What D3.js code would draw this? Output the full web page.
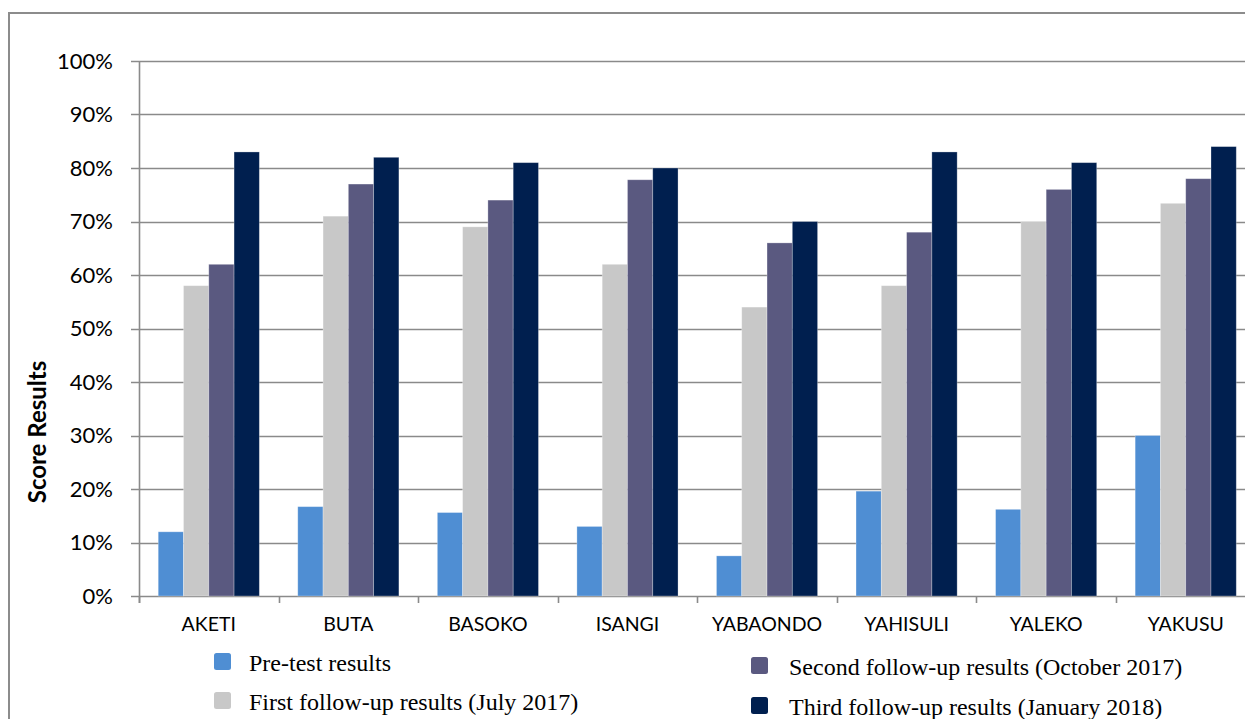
<!DOCTYPE html>
<html>
<head>
<meta charset="utf-8">
<script src="https://cdn.jsdelivr.net/npm/d3@7"></script>
<style>
  html, body { margin: 0; padding: 0; background: #fff; }
  svg { display: block; }
</style>
</head>
<body>
<svg id="chart" width="1245" height="719"></svg>
<script>
// Health zones on the x axis
const categories = ["AKETI", "BUTA", "BASOKO", "ISANGI", "YABAONDO", "YAHISULI", "YALEKO", "YAKUSU"];

// Scores per assessment round (percent)
const preTest      = [12, 16.7, 15.6, 13, 7.5, 19.6, 16.2, 30];
const firstFollow  = [58, 71, 69, 62, 54, 58, 70, 73.4];
const secondFollow = [62, 77, 74, 77.8, 66, 68, 76, 78];
const thirdFollow  = [83, 82, 81, 80, 70, 83, 81, 84];

const seriesNames = [
  "Pre-test results",
  "First follow-up results (July 2017)",
  "Second follow-up results (October 2017)",
  "Third follow-up results (January 2018)"
];
const seriesColors = ["#4f8ed3", "#c8c8c8", "#5a5980", "#001f4f"];
const yTicks = [0, 10, 20, 30, 40, 50, 60, 70, 80, 90, 100];

const seriesValues = [preTest, firstFollow, secondFollow, thirdFollow];

const svg = d3.select("#chart");

const plot = { left: 139, right: 1255.5, top: 61, bottom: 596 };

const x0 = d3.scaleBand()
  .domain(categories)
  .range([plot.left, plot.right])
  .paddingInner(0)
  .paddingOuter(0);

const x1 = d3.scaleBand()
  .domain(d3.range(seriesNames.length))
  .range([0, x0.bandwidth()])
  .paddingInner(0)
  .paddingOuter(0.76);

const y = d3.scaleLinear().domain([0, 100]).range([plot.bottom, plot.top]);

// Outer frame (left and top edges)
svg.append("path")
  .attr("d", "M9,719 L9,13 L1245,13")
  .attr("fill", "none")
  .attr("stroke", "#8c8c8c")
  .attr("stroke-width", 2);

// Horizontal gridlines with left tick stubs
svg.append("g")
  .selectAll("line")
  .data(yTicks)
  .join("line")
  .attr("x1", plot.left - 8)
  .attr("x2", 1245)
  .attr("y1", d => Math.round(y(d)) + 0.5)
  .attr("y2", d => Math.round(y(d)) + 0.5)
  .attr("stroke", "#8a8a8a")
  .attr("stroke-width", 1.6);

// Bars
const groups = svg.append("g")
  .selectAll("g")
  .data(categories)
  .join("g")
  .attr("transform", d => `translate(${x0(d)},0)`);

groups.selectAll("rect")
  .data((d, i) => seriesValues.map((vals, s) => ({ s, v: vals[i] })))
  .join("rect")
  .attr("x", d => x1(d.s))
  .attr("width", x1.bandwidth())
  .attr("y", d => y(d.v))
  .attr("height", d => y(0) - y(d.v))
  .attr("fill", d => seriesColors[d.s])
  .attr("stroke", "rgba(255,255,255,0.35)")
  .attr("stroke-width", 0.8);

// Y axis line
svg.append("line")
  .attr("x1", plot.left + 0.5).attr("x2", plot.left + 0.5)
  .attr("y1", plot.top).attr("y2", plot.bottom + 7)
  .attr("stroke", "#8a8a8a")
  .attr("stroke-width", 1.6);

// Category labels
const xAxis = d3.axisBottom(x0).tickSize(0).tickPadding(0);
const xg = svg.append("g")
  .attr("transform", `translate(0,${plot.bottom})`)
  .call(xAxis);
xg.select(".domain").remove();
xg.selectAll(".tick line").remove();
xg.selectAll(".tick text")
  .attr("y", 35)
  .attr("dy", 0)
  .attr("fill", "#000")
  .style("font-family", "Lato, 'Open Sans', sans-serif")
  .style("font-size", "19.5px");

// Category boundary tick marks below the baseline
svg.append("g")
  .selectAll("line")
  .data(categories.concat(["end"]))
  .join("line")
  .attr("x1", (d, i) => Math.round(plot.left + i * x0.step()) + 0.5)
  .attr("x2", (d, i) => Math.round(plot.left + i * x0.step()) + 0.5)
  .attr("y1", plot.bottom)
  .attr("y2", plot.bottom + 7)
  .attr("stroke", "#8a8a8a")
  .attr("stroke-width", 1.6);

// Y tick labels
const yAxis = d3.axisLeft(y).tickValues(yTicks).tickSize(0).tickPadding(0)
  .tickFormat(d => d + "%");
const yg = svg.append("g")
  .attr("transform", `translate(113,0)`)
  .call(yAxis);
yg.select(".domain").remove();
yg.selectAll(".tick text")
  .attr("x", 0)
  .attr("fill", "#000")
  .style("font-family", "Lato, 'Open Sans', sans-serif")
  .style("font-size", "22px");

// Y axis title
svg.append("text")
  .attr("transform", "translate(46,432) rotate(-90)")
  .attr("text-anchor", "middle")
  .style("font-family", "Lato, 'Open Sans', sans-serif")
  .style("font-weight", "bold")
  .style("font-size", "24px")
  .text("Score Results");

// Legend: two columns of two entries
const legendPos = [
  { x: 214, y: 653, tx: 35 },
  { x: 214, y: 692, tx: 35 },
  { x: 751, y: 657, tx: 38 },
  { x: 751, y: 697, tx: 38 }
];

const legend = svg.append("g")
  .selectAll("g")
  .data(seriesNames)
  .join("g")
  .attr("transform", (d, i) => `translate(${legendPos[i].x},${legendPos[i].y})`);

legend.append("rect")
  .attr("width", 17)
  .attr("height", 17)
  .attr("rx", 2.5)
  .attr("fill", (d, i) => seriesColors[i]);

legend.append("text")
  .attr("x", (d, i) => legendPos[i].tx)
  .attr("y", 18)
  .style("font-family", "'Liberation Serif', 'Times New Roman', serif")
  .style("font-size", "24px")
  .attr("fill", "#000")
  .text(d => d);
</script>
</body>
</html>
